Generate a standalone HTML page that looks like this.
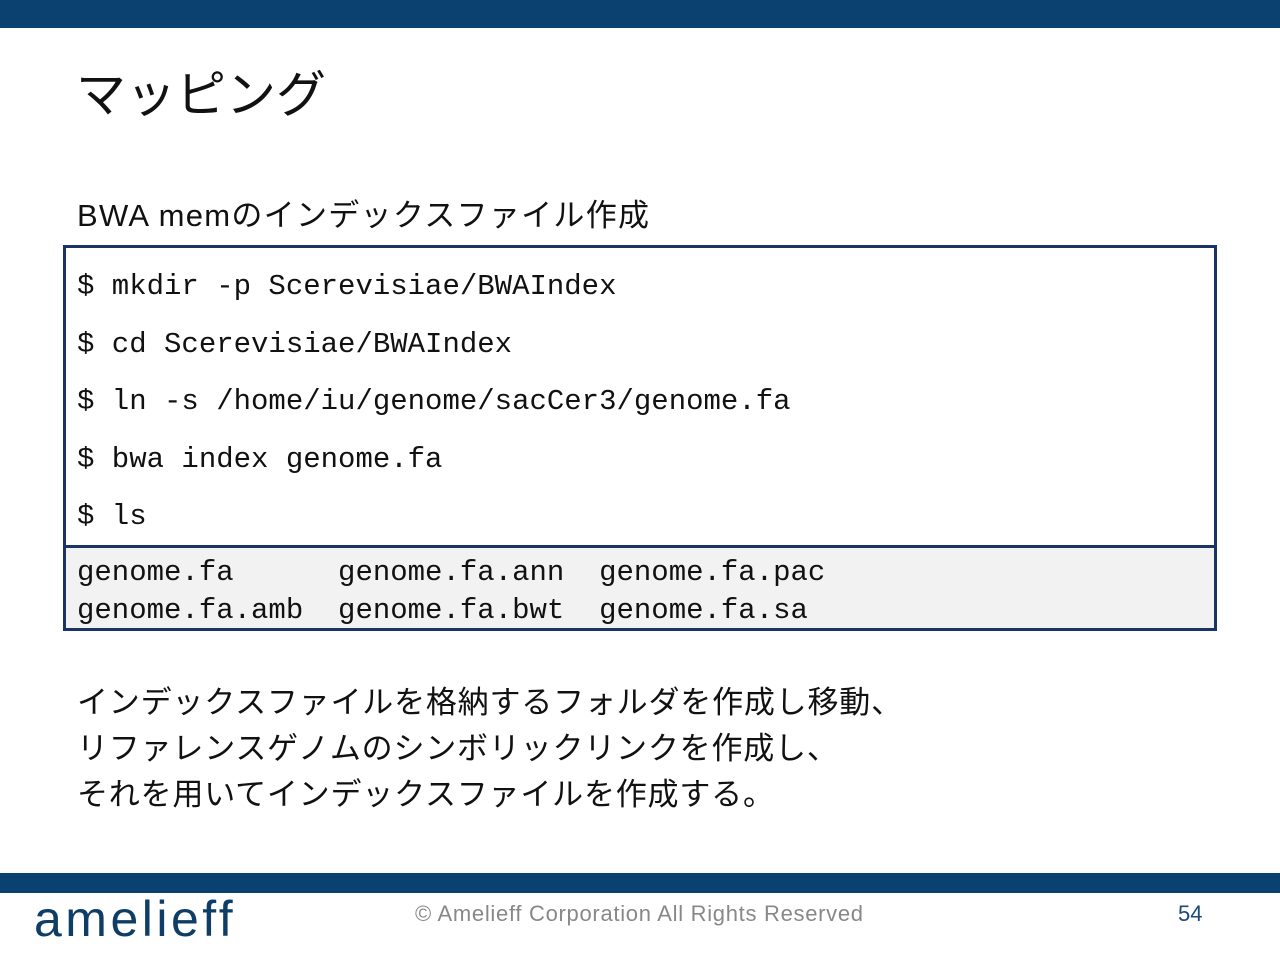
<!DOCTYPE html>
<html><head><meta charset="utf-8"><style>
body{margin:0;width:1280px;height:960px;background:#fff;position:relative;overflow:hidden;font-family:"Liberation Sans","Noto Sans CJK JP",sans-serif;}
.a{position:absolute;white-space:pre;}
.m{font-family:"Liberation Mono",monospace;font-size:29px;color:#111;line-height:34px;}
</style></head><body>
<div class="a" style="left:0;top:0;width:1280px;height:28px;background:#0b4170"></div>
<div class="a" style="left:76px;top:55px;font-size:50px;color:#111">マッピング</div>
<div class="a" style="left:77px;top:190px;font-size:31px;color:#111;letter-spacing:1.3px">BWA memのインデックスファイル作成</div>
<div class="a" style="left:63px;top:245px;width:1148px;height:380px;border:3px solid #1a3466;"></div>
<div class="a" style="left:66px;top:545px;width:1148px;height:80px;background:#f2f2f2;border-top:3px solid #1a3466;"></div>
<div class="a m" style="left:77px;top:270px">$ mkdir -p Scerevisiae/BWAIndex</div>
<div class="a m" style="left:77px;top:328px">$ cd Scerevisiae/BWAIndex</div>
<div class="a m" style="left:77px;top:385px">$ ln -s /home/iu/genome/sacCer3/genome.fa</div>
<div class="a m" style="left:77px;top:443px">$ bwa index genome.fa</div>
<div class="a m" style="left:77px;top:500px">$ ls</div>
<div class="a m" style="left:77px;top:556px">genome.fa      genome.fa.ann  genome.fa.pac</div>
<div class="a m" style="left:77px;top:594px">genome.fa.amb  genome.fa.bwt  genome.fa.sa</div>
<div class="a" style="left:77px;top:680px;font-size:31px;line-height:46px;color:#111;letter-spacing:0.8px">インデックスファイルを格納するフォルダを作成し移動、
リファレンスゲノムのシンボリックリンクを作成し、
それを用いてインデックスファイルを作成する。</div>
<div class="a" style="left:0;top:873px;width:1280px;height:20px;background:#0b4170"></div>
<div class="a" style="left:34px;top:890px;font-size:50px;color:#0e3d66;letter-spacing:3.5px">amelieff</div>
<div class="a" style="left:415px;top:901px;font-size:22px;color:#888;letter-spacing:0.7px">© Amelieff Corporation All Rights Reserved</div>
<div class="a" style="left:1178px;top:901px;font-size:22px;color:#1a4a7a">54</div>
</body></html>
